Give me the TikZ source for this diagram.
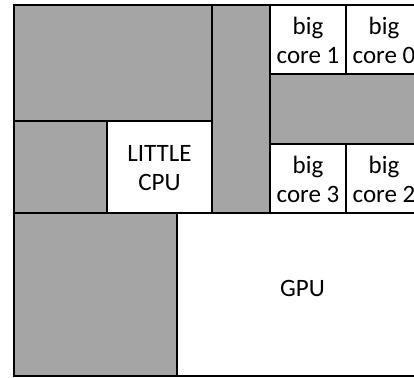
\documentclass[tikz,border=0pt]{standalone}
\usepackage{fontspec}
\setmainfont{Carlito}
\definecolor{blockgray}{RGB}{165,165,165}
\begin{document}
\begin{tikzpicture}[x=1pt,y=-1pt,
  blk/.style={rectangle, draw=black, line width=2.2pt, anchor=north west,
    outer sep=0pt, inner sep=0pt},
  graybox/.style={blk, fill=blockgray},
  whitebox/.style={blk, fill=white},
  txt/.style={align=center, inner sep=0pt, font=\fontsize{25}{29}\selectfont}]
\path[use as bounding box, clip] (0,0) rectangle (414,377);
\fill[white] (0,0) rectangle (414,377);
% left side
\node[graybox, minimum width=198pt, minimum height=116pt] (topleft) at (14,5) {};
\node[graybox, minimum width=93pt, minimum height=92pt] (midleft) at (14,121) {};
\node[whitebox, minimum width=105pt, minimum height=92pt] (little) at (107,121) {};
% column
\node[graybox, minimum width=58pt, minimum height=208pt] (column) at (212,5) {};
% big cores
\node[whitebox, minimum width=76pt, minimum height=69pt] (core1) at (270,5) {};
\node[whitebox, minimum width=76pt, minimum height=69pt] (core0) at (346,5) {};
\node[graybox, minimum width=152pt, minimum height=70pt] (band) at (270,74) {};
\node[whitebox, minimum width=76pt, minimum height=69pt] (core3) at (270,144) {};
\node[whitebox, minimum width=76pt, minimum height=69pt] (core2) at (346,144) {};
% bottom
\node[graybox, minimum width=163pt, minimum height=163pt] (botleft) at (14,213) {};
\node[whitebox, minimum width=245pt, minimum height=163pt] (gpu) at (177,213) {};
% labels
\node[txt] (littletext) at ([yshift=-1pt]little.center) {LITTLE\\CPU};
\node[txt] (core1text) at ([yshift=-1pt]core1.center) {big\\core 1};
\node[txt] (core0text) at ([yshift=-1pt]core0.center) {big\\core 0};
\node[txt] (core3text) at ([yshift=-1pt]core3.center) {big\\core 3};
\node[txt] (core2text) at ([yshift=-1pt]core2.center) {big\\core 2};
\node[txt] (gputext) at ([xshift=3pt,yshift=6pt]gpu.center) {GPU};
\end{tikzpicture}
\end{document}
